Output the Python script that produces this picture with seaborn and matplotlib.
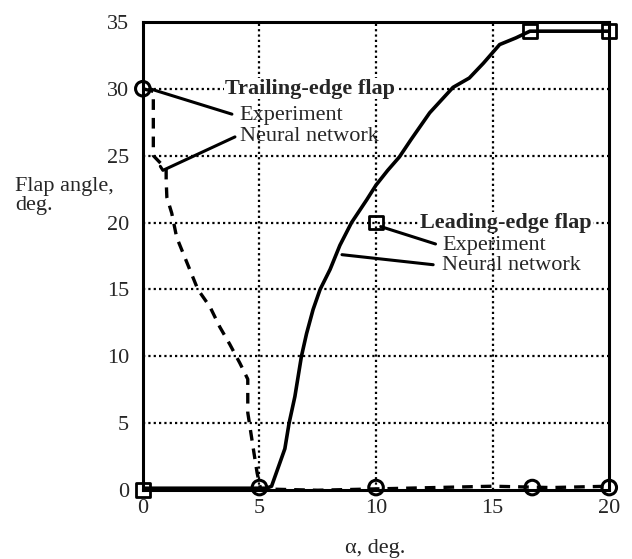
import matplotlib
matplotlib.use("Agg")
import matplotlib.pyplot as plt
import seaborn as sns
import pandas as pd

# Trailing-edge flap: experiment points and neural-network schedule
te_exp_alpha = [0.0, 5.0, 10.0, 16.7, 20.0]
te_exp_flap = [30.0, 0.2, 0.2, 0.2, 0.2]
te_nn_alpha = [0.0, 0.45, 0.45, 1.0, 1.0, 1.03, 1.24, 1.45, 1.8, 2.36, 2.88, 3.3,
               3.73, 4.16, 4.5, 4.5, 4.72, 4.9, 5.05, 7.5, 10.0, 12.5, 15.0, 17.5, 20.0]
te_nn_flap = [30.0, 29.8, 25.0, 24.0, 23.2, 21.9, 20.7, 18.9, 17.4, 15.0, 13.7, 12.2,
              10.9, 9.5, 8.3, 5.8, 3.3, 1.3, 0.1, 0.0, 0.1, 0.2, 0.3, 0.2, 0.3]

# Leading-edge flap: experiment points and neural-network schedule
le_exp_alpha = [0.0, 10.0, 16.6, 20.0]
le_exp_flap = [0.0, 20.0, 34.3, 34.3]
le_nn_alpha = [0.0, 5.3, 5.52, 6.09, 6.27, 6.52, 6.8, 7.02, 7.3, 7.6, 8.03, 8.45,
               8.95, 9.6, 10.0, 10.5, 11.0, 11.5, 12.3, 13.3, 14.0, 14.6, 15.3, 16.0,
               16.6, 20.0]
le_nn_flap = [0.15, 0.15, 0.3, 3.1, 5.0, 7.0, 10.0, 11.7, 13.5, 15.0, 16.5, 18.3,
              20.0, 21.7, 22.8, 23.9, 24.9, 26.2, 28.2, 30.1, 30.8, 31.9, 33.3, 33.8,
              34.3, 34.3]

x_ticks = [0, 5, 10, 15, 20]
y_ticks = [0, 5, 10, 15, 20, 25, 30, 35]

sns.set_style("white")
plt.rcParams["font.family"] = ["Liberation Serif", "DejaVu Serif"]

FS = 16

fig = plt.figure(figsize=(6.32, 5.59), dpi=100)
ax = fig.add_axes([0.226, 0.123, 0.738, 0.838])

te_nn = pd.DataFrame({"alpha": te_nn_alpha, "flap": te_nn_flap})
le_nn = pd.DataFrame({"alpha": le_nn_alpha, "flap": le_nn_flap})
te_exp = pd.DataFrame({"alpha": te_exp_alpha, "flap": te_exp_flap})
le_exp = pd.DataFrame({"alpha": le_exp_alpha, "flap": le_exp_flap})

# dotted grid
grid_kw = dict(color="black", lw=1.6, ls=(0, (1, 1.4)), zorder=1)
for gx in [5, 10, 15]:
    ax.axvline(gx, **grid_kw)
for gy in [5, 10, 15, 20, 25, 30]:
    ax.axhline(gy, **grid_kw)

sns.lineplot(data=te_nn, x="alpha", y="flap", ax=ax, sort=False, estimator=None,
             color="black", lw=2.4, zorder=3)
ax.lines[-1].set_linestyle((0, (3.2, 2.4)))
sns.lineplot(data=le_nn, x="alpha", y="flap", ax=ax, sort=False, estimator=None,
             color="black", lw=2.6, zorder=3)

sns.scatterplot(data=te_exp, x="alpha", y="flap", ax=ax, marker="o", s=110,
                facecolor="none", edgecolor="black", linewidth=2.2, zorder=4, clip_on=False)
sns.scatterplot(data=le_exp, x="alpha", y="flap", ax=ax, marker="s", s=95,
                facecolor="none", edgecolor="black", linewidth=2.0, zorder=4, clip_on=False)

ax.set_xlim(0, 20)
ax.set_ylim(0, 35)
ax.set_xticks(x_ticks)
ax.set_yticks(y_ticks)
ax.tick_params(axis="y", direction="in", length=9, width=2.5, labelsize=FS, pad=10)
ax.tick_params(axis="x", direction="in", length=0, labelsize=FS, pad=6)
for sp in ax.spines.values():
    sp.set_color("black")
    sp.set_linewidth(2.2)

ax.set_xlabel("")
ax.set_ylabel("")
fig.text(0.593, 0.018, "α, deg.", ha="center", va="center", fontsize=FS)
fig.text(0.024, 0.65, "Flap angle,\ndeg.", ha="left", va="center", fontsize=FS,
         linespacing=1.0)

box = dict(facecolor="white", edgecolor="none", pad=0.5)
ax.text(3.52, 30.0, "Trailing-edge flap", fontsize=FS, fontweight="bold",
        ha="left", va="center", bbox=box, zorder=5)
ax.text(4.16, 28.0, "Experiment", fontsize=FS, ha="left", va="center", zorder=5)
ax.text(4.16, 26.45, "Neural network", fontsize=FS, ha="left", va="center", zorder=5)
ax.plot([0.3, 3.82], [30.0, 28.1], color="black", lw=2.2, zorder=5)
ax.plot([0.75, 0.86, 3.95], [24.2, 23.9, 26.4], color="black", lw=2.2, zorder=5)

ax.text(11.9, 20.0, "Leading-edge flap", fontsize=FS, fontweight="bold",
        ha="left", va="center", bbox=box, zorder=5)
ax.text(12.83, 18.3, "Experiment", fontsize=FS, ha="left", va="center", zorder=5)
ax.text(12.83, 16.8, "Neural network", fontsize=FS, ha="left", va="center", zorder=5)
ax.plot([10.2, 12.55], [19.7, 18.4], color="black", lw=2.2, zorder=5)
ax.plot([8.54, 12.45], [17.6, 16.85], color="black", lw=2.2, zorder=5)

fig.savefig("out.png", dpi=100)
